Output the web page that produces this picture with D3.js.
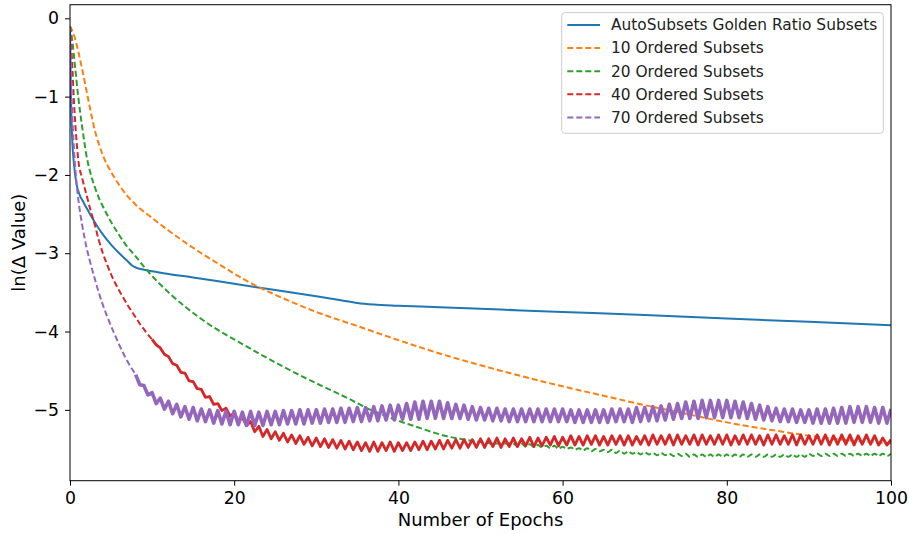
<!DOCTYPE html>
<html>
<head>
<meta charset="utf-8">
<script src="https://cdn.jsdelivr.net/npm/d3@7"></script>
<style>
  html, body { margin: 0; padding: 0; background: #fff; }
  svg { display: block; font-family: "DejaVu Sans", sans-serif; }
</style>
</head>
<body>
<svg id="chart" width="909" height="534"></svg>
<script>
// ---------- data ----------
const xTicks = [0, 20, 40, 60, 80, 100];
const yTicks = [0, -1, -2, -3, -4, -5];
const seriesNames = [
  "AutoSubsets Golden Ratio Subsets",
  "10 Ordered Subsets",
  "20 Ordered Subsets",
  "40 Ordered Subsets",
  "70 Ordered Subsets"
];
const seriesColors = ["#1f77b4", "#ff7f0e", "#2ca02c", "#d62728", "#9467bd"];

// AutoSubsets golden ratio: [epoch, ln(delta)]
const autoSubsets = [[0,-0.1],[0.05,-0.5],[0.12,-1.04],[0.25,-1.5],[0.5,-1.88],[0.8,-2.12],[1.2,-2.26],[1.6,-2.34],[2,-2.42],[3,-2.6],[4,-2.76],[5,-2.89],[6,-3.0],[7,-3.1],[7.6,-3.16],[8.2,-3.19],[9,-3.21],[10,-3.23],[12,-3.265],[15,-3.31],[20,-3.39],[25,-3.47],[30,-3.55],[33,-3.6],[35,-3.635],[37,-3.655],[40,-3.67],[45,-3.69],[50,-3.71],[55,-3.73],[60,-3.75],[70,-3.79],[80,-3.835],[90,-3.875],[100,-3.92]];

// 10 ordered subsets
const os10 = [[0,-0.1],[0.5,-0.22],[1,-0.42],[1.5,-0.66],[2,-0.92],[2.5,-1.18],[3,-1.42],[3.5,-1.6],[4,-1.75],[5,-1.96],[6,-2.13],[7,-2.27],[8,-2.38],[10,-2.55],[12,-2.71],[14,-2.86],[16,-3.0],[18,-3.13],[20,-3.26],[22,-3.38],[25,-3.53],[30,-3.75],[35,-3.93],[40,-4.11],[45,-4.28],[50,-4.43],[55,-4.57],[60,-4.7],[65,-4.82],[70,-4.94],[75,-5.05],[80,-5.16],[85,-5.25],[90,-5.33],[95,-5.39],[100,-5.43]];

// 20 ordered subsets: smooth start, then small oscillation every half epoch from epoch 54
const os20Start = [[0,-0.1],[0.3,-0.3],[0.6,-0.6],[1,-1.0],[1.5,-1.4],[2,-1.75],[2.5,-1.98],[3,-2.15],[3.5,-2.29],[4,-2.4],[5,-2.6],[6,-2.77],[7,-2.92],[8,-3.04],[9,-3.17],[10,-3.29],[12,-3.5],[14,-3.68],[16,-3.84],[18,-3.98],[20,-4.1],[23,-4.28],[26,-4.45],[29,-4.61],[32,-4.76],[34,-4.86],[36,-4.97],[38,-5.06],[40,-5.14],[42,-5.21],[44,-5.28],[46,-5.34],[48,-5.38],[50,-5.41],[52,-5.43]];
const os20OscStart = 54;
const os20Osc = [-5.43,-5.46,-5.43,-5.47,-5.44,-5.47,-5.45,-5.48,-5.46,-5.49,-5.46,-5.50,-5.47,-5.50,-5.48,-5.51,-5.49,-5.52,-5.49,-5.53,-5.50,-5.53,-5.51,-5.54,-5.51,-5.55,-5.52,-5.56,-5.53,-5.56,-5.54,-5.57,-5.54,-5.57,-5.55,-5.58,-5.55,-5.58,-5.56,-5.59,-5.56,-5.59,-5.56,-5.60,-5.57,-5.60,-5.57,-5.60,-5.57,-5.60,-5.57,-5.60,-5.57,-5.60,-5.57,-5.60,-5.57,-5.60,-5.57,-5.60,-5.57,-5.60,-5.57,-5.60,-5.57,-5.60,-5.57,-5.60,-5.57,-5.60,-5.57,-5.60,-5.56,-5.59,-5.56,-5.59,-5.56,-5.59,-5.56,-5.59,-5.56,-5.59,-5.56,-5.59,-5.56,-5.59,-5.56,-5.59,-5.56,-5.59,-5.56,-5.59,-5.56];

// 40 ordered subsets: smooth start, then oscillation every half epoch from epoch 10
const os40Start = [[0,-0.1],[0.15,-0.35],[0.3,-0.65],[0.5,-1.1],[0.75,-1.5],[1,-1.8],[1.5,-2.05],[2,-2.25],[2.5,-2.45],[3,-2.63],[3.5,-2.83],[4,-3.0],[4.5,-3.14],[5,-3.27],[5.5,-3.38],[6,-3.48],[6.5,-3.57],[7,-3.66],[7.5,-3.74],[8,-3.82],[8.5,-3.9],[9,-3.97],[9.5,-4.04]];
const os40OscStart = 10;
const os40Osc = [-4.10,-4.17,-4.21,-4.29,-4.32,-4.41,-4.43,-4.52,-4.53,-4.63,-4.64,-4.73,-4.74,-4.84,-4.83,-4.93,-4.92,-5.01,-4.98,-5.08,-5.04,-5.14,-5.10,-5.20,-5.15,-5.28,-5.21,-5.34,-5.25,-5.37,-5.28,-5.39,-5.30,-5.41,-5.32,-5.43,-5.33,-5.44,-5.35,-5.46,-5.36,-5.47,-5.37,-5.48,-5.38,-5.49,-5.39,-5.50,-5.40,-5.51,-5.41,-5.52,-5.42,-5.53,-5.41,-5.53,-5.42,-5.52,-5.41,-5.53,-5.42,-5.52,-5.42,-5.52,-5.41,-5.51,-5.40,-5.51,-5.40,-5.50,-5.39,-5.50,-5.39,-5.49,-5.38,-5.49,-5.38,-5.48,-5.38,-5.48,-5.37,-5.48,-5.37,-5.47,-5.36,-5.48,-5.37,-5.47,-5.36,-5.47,-5.37,-5.46,-5.35,-5.47,-5.36,-5.46,-5.35,-5.45,-5.34,-5.46,-5.35,-5.45,-5.33,-5.45,-5.34,-5.45,-5.33,-5.44,-5.33,-5.45,-5.34,-5.45,-5.33,-5.44,-5.33,-5.45,-5.33,-5.45,-5.34,-5.44,-5.33,-5.45,-5.32,-5.44,-5.33,-5.44,-5.32,-5.45,-5.32,-5.44,-5.33,-5.44,-5.32,-5.45,-5.32,-5.44,-5.33,-5.44,-5.32,-5.44,-5.32,-5.45,-5.33,-5.44,-5.32,-5.44,-5.32,-5.44,-5.33,-5.45,-5.32,-5.44,-5.32,-5.44,-5.33,-5.44,-5.32,-5.45,-5.32,-5.44,-5.33,-5.44,-5.32,-5.44,-5.32,-5.45,-5.33,-5.44,-5.32,-5.44,-5.32,-5.45,-5.33,-5.44,-5.32,-5.44,-5.33,-5.45,-5.36,-5.45,-5.38];

// 70 ordered subsets: smooth start, then oscillation every half epoch from epoch 8
const os70Start = [[0,-0.1],[0.1,-0.6],[0.2,-1.0],[0.35,-1.4],[0.5,-1.7],[0.75,-2.05],[1,-2.3],[1.5,-2.65],[2,-2.92],[2.5,-3.13],[3,-3.32],[3.5,-3.5],[4,-3.66],[4.5,-3.8],[5,-3.93],[5.5,-4.05],[6,-4.17],[6.5,-4.28],[7,-4.38],[7.5,-4.47]];
const os70OscStart = 8;
const os70Osc = [-4.55,-4.68,-4.69,-4.81,-4.78,-4.92,-4.85,-4.99,-4.89,-5.05,-4.93,-5.09,-4.96,-5.12,-4.97,-5.14,-4.99,-5.15,-5.00,-5.17,-5.01,-5.18,-5.02,-5.19,-5.02,-5.19,-5.03,-5.20,-5.02,-5.20,-5.03,-5.20,-5.02,-5.19,-5.02,-5.19,-5.01,-5.18,-5.01,-5.18,-5.00,-5.18,-5.00,-5.17,-5.00,-5.17,-4.99,-5.16,-4.99,-5.16,-4.98,-5.16,-4.98,-5.15,-4.97,-5.15,-4.97,-5.14,-4.96,-5.14,-4.95,-5.13,-4.94,-5.13,-4.94,-5.12,-4.92,-5.12,-4.90,-5.12,-4.89,-5.11,-4.89,-5.11,-4.89,-5.11,-4.91,-5.11,-4.93,-5.11,-4.94,-5.12,-4.96,-5.13,-4.97,-5.13,-4.98,-5.14,-4.98,-5.14,-4.99,-5.15,-4.99,-5.15,-4.99,-5.15,-4.99,-5.15,-4.99,-5.15,-4.99,-5.15,-4.99,-5.15,-4.99,-5.15,-5.00,-5.16,-5.00,-5.16,-5.00,-5.16,-5.00,-5.16,-5.00,-5.16,-4.99,-5.15,-4.99,-5.15,-4.99,-5.16,-4.97,-5.15,-4.97,-5.14,-4.96,-5.14,-4.95,-5.13,-4.93,-5.12,-4.92,-5.11,-4.90,-5.11,-4.89,-5.11,-4.88,-5.10,-4.88,-5.10,-4.88,-5.10,-4.88,-5.10,-4.89,-5.10,-4.90,-5.11,-4.92,-5.12,-4.94,-5.13,-4.96,-5.14,-4.98,-5.15,-4.99,-5.15,-4.99,-5.16,-5.00,-5.16,-5.00,-5.17,-4.99,-5.17,-4.99,-5.17,-4.98,-5.17,-4.97,-5.17,-4.96,-5.16,-4.96,-5.16,-4.96,-5.16,-4.97,-5.17,-4.97,-5.17,-4.99];

// ---------- assemble series (oscillating parts are sampled every half epoch) ----------
function oscPoints(oscStart, osc) {
  return osc.map((v, i) => [oscStart + i * 0.5, v]);
}
const series = [
  { name: seriesNames[0], color: seriesColors[0], dashed: false, smooth: autoSubsets, osc: [], oscWidth: 0 },
  { name: seriesNames[1], color: seriesColors[1], dashed: true,  smooth: os10, osc: [], oscWidth: 0 },
  { name: seriesNames[2], color: seriesColors[2], dashed: true,  smooth: os20Start, osc: oscPoints(os20OscStart, os20Osc), oscWidth: 0 },
  { name: seriesNames[3], color: seriesColors[3], dashed: true,  smooth: os40Start, osc: oscPoints(os40OscStart, os40Osc), oscWidth: 2.8 },
  { name: seriesNames[4], color: seriesColors[4], dashed: true,  smooth: os70Start, osc: oscPoints(os70OscStart, os70Osc), oscWidth: 3.6 }
];

// ---------- layout ----------
const svg = d3.select("#chart");
const pLeft = 70, pRight = 891, pTop = 4.7, pBottom = 480.7;

const x = d3.scaleLinear().domain([0, 100]).range([pLeft, pRight]);
const y = d3.scaleLinear().domain([-5.905, 0.174]).range([pBottom, pTop]);

svg.append("defs").append("clipPath").attr("id", "clip")
  .append("rect").attr("x", pLeft).attr("y", pTop).attr("width", pRight - pLeft).attr("height", pBottom - pTop);

const smoothLine = d3.line().x(d => x(d[0])).y(d => y(d[1])).curve(d3.curveMonotoneX);
const oscLine = d3.line().x(d => x(d[0])).y(d => y(d[1])).curve(d3.curveLinear);
const plot = svg.append("g").attr("clip-path", "url(#clip)");
series.forEach(s => {
  const smoothPart = s.osc.length ? s.smooth.concat([s.osc[0]]) : s.smooth;
  plot.append("path")
    .datum(smoothPart)
    .attr("fill", "none")
    .attr("stroke", s.color)
    .attr("stroke-width", 2)
    .attr("stroke-linejoin", "round")
    .attr("stroke-dasharray", s.dashed ? "6,3" : null)
    .attr("d", smoothLine);
  if (s.osc.length) {
    const solid = s.oscWidth > 0;
    plot.append("path")
      .datum(s.osc)
      .attr("fill", "none")
      .attr("stroke", s.color)
      .attr("stroke-width", solid ? s.oscWidth : 2)
      .attr("stroke-linejoin", "round")
      .attr("stroke-dasharray", solid ? null : "6,3")
      .attr("d", solid ? oscLine : smoothLine);
  }
});

// axes
const fmt = d3.format("d");
const xAxis = svg.append("g").attr("transform", `translate(0,${pBottom})`)
  .call(d3.axisBottom(x).tickValues(xTicks).tickFormat(fmt).tickSize(5).tickPadding(6));
const yAxis = svg.append("g").attr("transform", `translate(${pLeft},0)`)
  .call(d3.axisLeft(y).tickValues(yTicks).tickFormat(fmt).tickSize(5).tickPadding(6));
[xAxis, yAxis].forEach(g => {
  g.select(".domain").remove();
  g.selectAll(".tick line").attr("stroke", "#000").attr("stroke-width", 1);
  g.selectAll(".tick text").attr("fill", "#000").style("font-size", "17.3px").style("font-family", "DejaVu Sans");
});

// frame
svg.append("rect")
  .attr("x", pLeft).attr("y", pTop).attr("width", pRight - pLeft).attr("height", pBottom - pTop)
  .attr("fill", "none").attr("stroke", "#000").attr("stroke-width", 1);

// axis labels
svg.append("text")
  .attr("x", (pLeft + pRight) / 2).attr("y", 526)
  .attr("text-anchor", "middle").style("font-size", "18px").attr("fill", "#000")
  .text("Number of Epochs");
svg.append("text")
  .attr("transform", `translate(25,${(pTop + pBottom) / 2}) rotate(-90)`)
  .attr("text-anchor", "middle").style("font-size", "18px").attr("fill", "#000")
  .text("ln(Δ Value)");

// legend
const lg = svg.append("g");
lg.append("rect")
  .attr("x", 561.7).attr("y", 12.7).attr("width", 321.6).attr("height", 120.6)
  .attr("rx", 3).attr("fill", "#fff").attr("fill-opacity", 0.8)
  .attr("stroke", "#cccccc").attr("stroke-width", 1);
series.forEach((s, i) => {
  const cy = 25 + i * 23.1;
  lg.append("line")
    .attr("x1", 567.3).attr("x2", 600).attr("y1", cy).attr("y2", cy)
    .attr("stroke", s.color).attr("stroke-width", 2)
    .attr("stroke-dasharray", s.dashed ? "6,3" : null);
  lg.append("text")
    .attr("x", 611).attr("y", cy).attr("dy", "0.35em")
    .style("font-size", "15.4px").attr("fill", "#222")
    .text(s.name);
});
</script>
</body>
</html>
